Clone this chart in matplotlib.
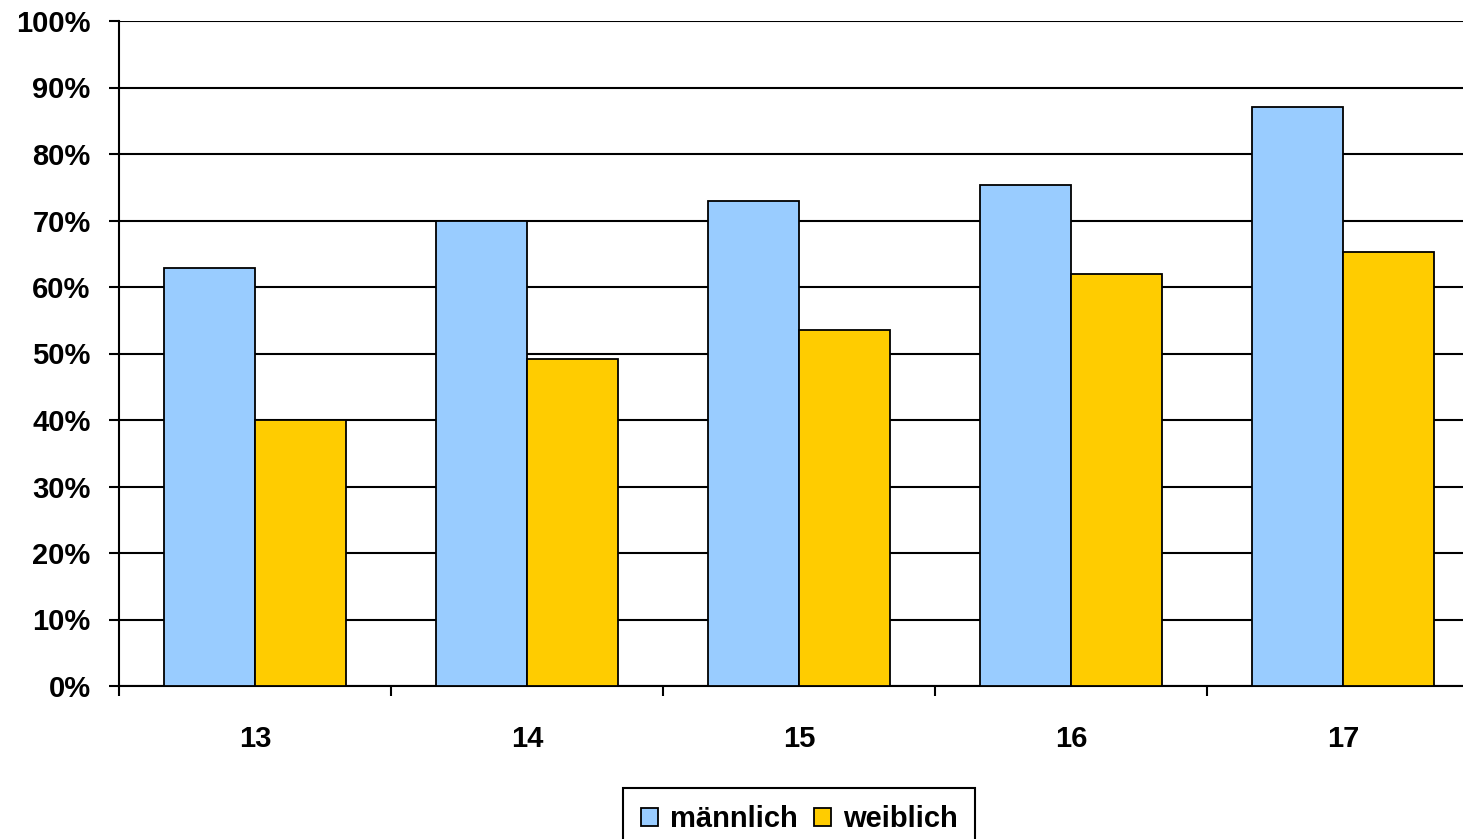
import matplotlib
matplotlib.use("Agg")
import matplotlib.pyplot as plt
from matplotlib.ticker import FixedLocator, PercentFormatter

categories = ["13", "14", "15", "16", "17"]
maennlich = [62.8, 70.0, 73.0, 75.4, 87.1]
weiblich = [40.0, 49.2, 53.5, 61.9, 65.2]
series_names = ["männlich", "weiblich"]
colors = ["#99CCFF", "#FFCC00"]

plt.rcParams['font.family'] = ['Liberation Sans', 'DejaVu Sans']
plt.rcParams['font.weight'] = 'bold'

fig = plt.figure(figsize=(14.63, 8.39), dpi=100)
ax = fig.add_axes([119/1463, (839-686)/839, 1360/1463, 665/839])

x = list(range(len(categories)))
w = 0.335
ax.bar([i - w/2 for i in x], maennlich, width=w, color=colors[0], edgecolor='black',
       linewidth=1.3, label=series_names[0], zorder=3)
ax.bar([i + w/2 for i in x], weiblich, width=w, color=colors[1], edgecolor='black',
       linewidth=1.3, label=series_names[1], zorder=3)

ax.set_xlim(-0.5, len(categories) - 0.5)
ax.set_ylim(0, 100)
ax.set_yticks(range(0, 101, 10))
ax.yaxis.set_major_formatter(PercentFormatter(decimals=0))
ax.yaxis.grid(True, color='black', linewidth=1.5, zorder=0)
ax.set_axisbelow(True)

ax.set_xticks(x)
ax.set_xticklabels(categories)
ax.xaxis.set_minor_locator(FixedLocator([i - 0.5 for i in range(len(categories) + 1)]))
ax.tick_params(axis='x', which='major', length=0, pad=28, labelsize=21)
ax.tick_params(axis='x', which='minor', length=7.5, width=1.5, direction='out')
ax.tick_params(axis='y', which='major', length=7.5, width=1.5, direction='out', pad=13, labelsize=21)
for lbl in ax.get_xticklabels() + ax.get_yticklabels():
    lbl.set_fontweight('bold')

for s in ['top', 'right']:
    ax.spines[s].set_visible(False)
for s in ['left', 'bottom']:
    ax.spines[s].set_linewidth(1.5)
    ax.spines[s].set_color('black')

leg = ax.legend(loc='upper center', bbox_to_anchor=(0.5, -0.153), ncol=2, frameon=True,
                fancybox=False, edgecolor='black', framealpha=1, borderaxespad=0,
                handlelength=0.6, handleheight=0.6, handletextpad=0.4, columnspacing=0.55,
                borderpad=0.6, prop={'size': 21, 'weight': 'bold'})
leg.get_frame().set_linewidth(1.5)

fig.savefig("out.png", dpi=100)
